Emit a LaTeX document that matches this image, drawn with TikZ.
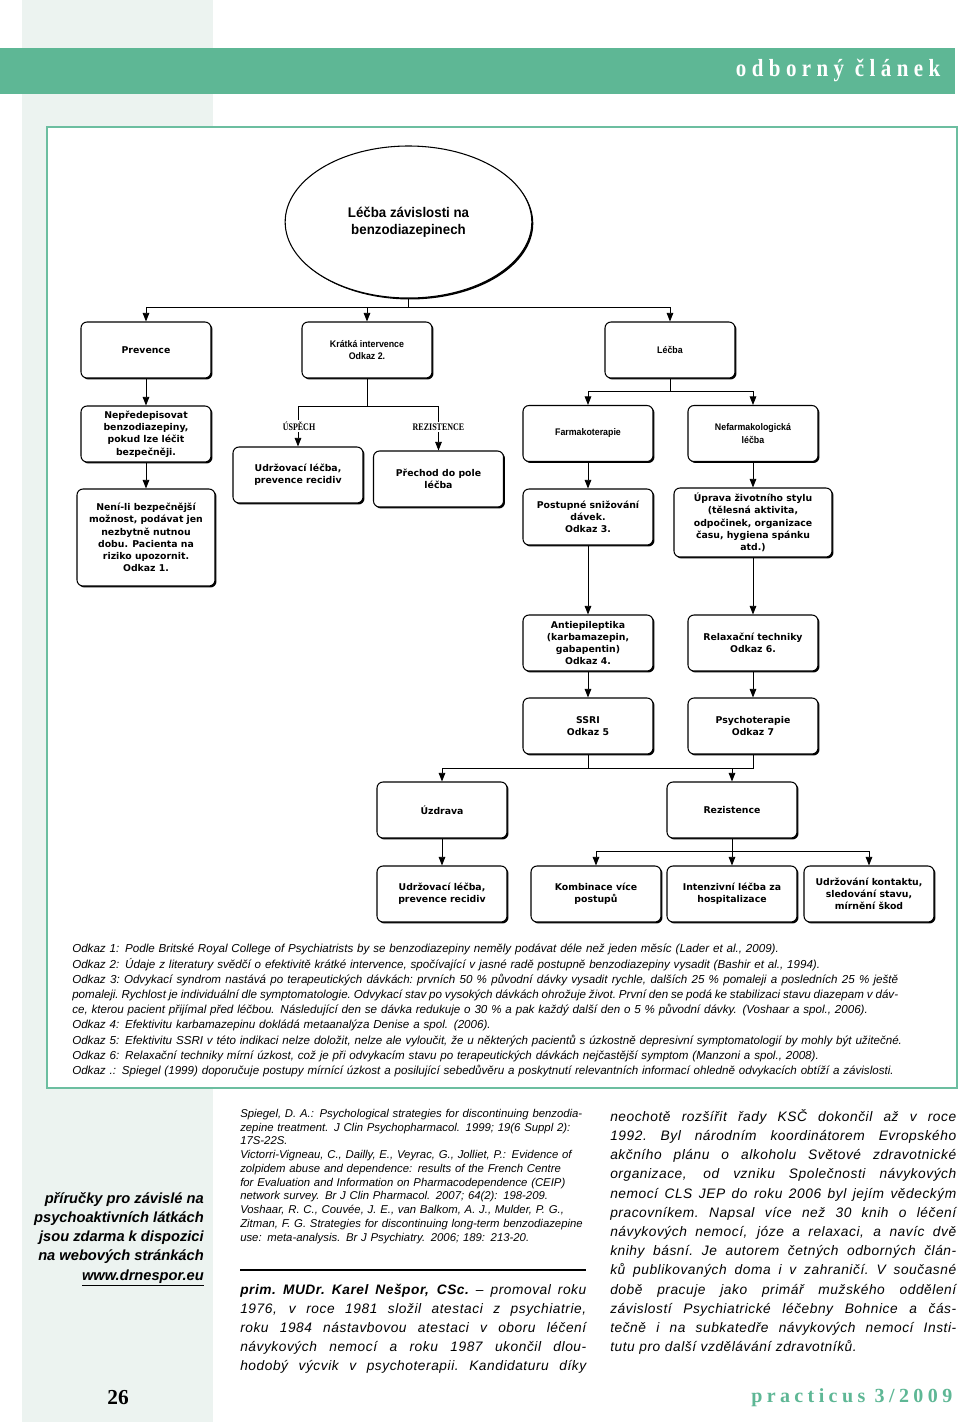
\documentclass[tikz,border=0pt]{standalone}
\usepackage{fontspec}
\setmainfont{Liberation Sans}
\usetikzlibrary{arrows.meta,shapes.geometric,shadows}
\definecolor{bannergreen}{RGB}{94,183,149}
\definecolor{framegreen}{RGB}{108,190,160}
\definecolor{stripgrey}{RGB}{236,243,240}
\newfontfamily\wideFace{DejaVu Sans}
\newfontfamily\narrowFace[FakeStretch=0.92]{Liberation Sans}
\newfontfamily\rootFace[FakeStretch=0.95]{Liberation Sans}
\newfontfamily\labelFace[FakeStretch=0.8]{Liberation Serif}
\newfontfamily\bannerFace[FakeStretch=0.85,LetterSpace=22]{Liberation Serif}
\newfontfamily\issueFace[LetterSpace=22]{Liberation Serif}
\newfontfamily\serifFace{Liberation Serif}
\newfontfamily\bodyFace[LetterSpace=4]{Liberation Sans}
% one justified line of a column
\newcommand\jl[2]{\leavevmode{\spaceskip=0.28em plus 3em minus 0.06em\xspaceskip=\spaceskip
	\hbox to #1{#2}}}

\begin{document}
\begin{tikzpicture}[x=0.75pt,y=-0.75pt]
\tikzset{box/.style = {draw, fill=white, line width=0.8pt, rounded corners=4.5pt,
	minimum width=97.5pt, minimum height=42pt, inner sep=2pt, align=center,
	font=\wideFace\bfseries\fontsize{7}{9.2}\selectfont,
	drop shadow={shadow xshift=1.1pt, shadow yshift=-1.1pt, opacity=1, fill=black}}}
\tikzset{smallbox/.style = {box, font=\narrowFace\bfseries\fontsize{7.2}{9.2}\selectfont}}
\tikzset{edge/.style = {-, > = {Triangle[length=6.5pt,width=5pt]}, line width=0.7pt}}
\tikzset{outcome/.style = {fill=white, inner sep=1pt, font=\labelFace\bfseries\fontsize{7.5}{9}\selectfont}}
\tikzset{textcol/.style = {anchor=north west, inner sep=0pt, align=left}}

\useasboundingbox (0,0) rectangle (960,1422);
% page
\fill[white] (0,0) rectangle (960,1422);
\fill[stripgrey] (22,0) rectangle (213,1422);
\fill[bannergreen] (0,48) rectangle (955,94);
\node[anchor=east, text=white, font=\bannerFace\bfseries\fontsize{18.5}{20}\selectfont] (head) at (945,70) {odborný článek};
\draw[framegreen, line width=1.5pt, fill=white] (47,127) rectangle (957,1088);

% vertices
\node[box, ellipse, minimum width=185pt, minimum height=114pt, inner sep=0pt,
	font=\rootFace\bfseries\fontsize{10.5}{13}\selectfont] (root) at (408.5,222) {Léčba závislosti na\\benzodiazepinech};

\node[box] (prev) at (146,350) {Prevence};
\node[smallbox] (krat) at (367,350) {Krátká intervence\\Odkaz 2.};
\node[smallbox] (lecba) at (670,350) {Léčba};

\node[box] (nepred) at (146,434) {Nepředepisovat\\benzodiazepiny,\\pokud lze léčit\\bezpečněji.};
\node[box, minimum width=103.5pt, minimum height=72.75pt] (nenili) at (146,537.5) {Není-li bezpečnější\\možnost, podávat jen\\nezbytně nutnou\\dobu. Pacienta na\\riziko upozornit.\\Odkaz 1.};

\node[box] (udrz) at (298,475) {Udržovací léčba,\\prevence recidiv};
\node[box] (prechod) at (438.5,479) {Přechod do pole\\léčba};

\node[smallbox] (farm) at (588,433.5) {Farmakoterapie};
\node[smallbox] (nefarm) at (753,433.5) {Nefarmakologická\\léčba};
\node[box] (postup) at (588,517) {Postupné snižování\\dávek.\\Odkaz 3.};
\node[box, minimum width=118.5pt, minimum height=51.75pt] (uprava) at (753,522.5) {Úprava životního stylu\\(tělesná aktivita,\\odpočinek, organizace\\času, hygiena spánku\\atd.)};

\node[box] (anti) at (588,643) {Antiepileptika\\(karbamazepin,\\gabapentin)\\Odkaz 4.};
\node[box] (relax) at (753,643) {Relaxační techniky\\Odkaz 6.};
\node[box] (ssri) at (588,726) {SSRI\\Odkaz 5};
\node[box] (psycho) at (753,726) {Psychoterapie\\Odkaz 7};

\node[box] (uzdr) at (442,810) {Úzdrava};
\node[box] (rezist) at (732,810) {Rezistence};
\node[box] (udrz2) at (442,894) {Udržovací léčba,\\prevence recidiv};
\node[box] (komb) at (596,894) {Kombinace více\\postupů};
\node[box] (intenz) at (732,894) {Intenzivní léčba za\\hospitalizace};
\node[box] (kontakt) at (869,894) {Udržování kontaktu,\\sledování stavu,\\mírnění škod};

\coordinate (j1) at (408.5,307);
\coordinate (j2) at (367,406);
\coordinate (j3) at (670,391);
\coordinate (j4) at (588,768);
\coordinate (j5) at (732,851);

%edges
\draw[edge] (root) -- (j1);
\draw[edge,->] (j1) -| (prev);
\draw[edge,->] (j1) -| (krat);
\draw[edge,->] (j1) -| (lecba);

\draw[edge,->] (prev) -- (nepred);
\draw[edge,->] (nepred) -- (nenili);

\draw[edge] (krat) -- (j2);
\draw[edge,->] (j2) -| (udrz);
\draw[edge,->] (j2) -| (prechod);
\node[outcome] (uspech) at (299,426) {ÚSPĚCH};
\node[outcome] (rezlbl) at (438.5,427) {REZISTENCE};

\draw[edge] (lecba) -- (j3);
\draw[edge,->] (j3) -| (farm);
\draw[edge,->] (j3) -| (nefarm);
\draw[edge,->] (farm) -- (postup);
\draw[edge,->] (nefarm) -- (uprava);
\draw[edge,->] (postup) -- (anti);
\draw[edge,->] (uprava) -- (relax);
\draw[edge,->] (anti) -- (ssri);
\draw[edge,->] (relax) -- (psycho);

\draw[edge] (ssri) -- (j4);
\draw[edge] (psycho.south) |- (j4);
\draw[edge,->] (j4) -| (uzdr);
\draw[edge,->] (j4) -| (rezist);
\draw[edge,->] (uzdr) -- (udrz2);

\draw[edge] (rezist) -- (j5);
\draw[edge,->] (j5) -| (komb);
\draw[edge,->] (j5) -- (intenz);
\draw[edge,->] (j5) -| (kontakt);

% notes under the chart
\node[textcol, text width=670pt, font=\itshape\fontsize{8.7}{11.4}\selectfont] (notes) at (72,944) {%
Odkaz 1: Podle Britské Royal College of Psychiatrists by se benzodiazepiny neměly podávat déle než jeden měsíc (Lader et al., 2009).\\
Odkaz 2: Údaje z literatury svědčí o efektivitě krátké intervence, spočívající v jasné radě postupně benzodiazepiny vysadit (Bashir et al., 1994).\\
\jl{619.5pt}{Odkaz 3: Odvykací syndrom nastává po terapeutických dávkách: prvních 50 \% původní dávky vysadit rychle, dalších 25 \% pomaleji a posledních 25 \% ještě}\\
\jl{619.5pt}{pomaleji. Rychlost je individuální dle symptomatologie. Odvykací stav po vysokých dávkách ohrožuje život. První den se podá ke stabilizaci stavu diazepam v dáv-}\\
ce, kterou pacient přijímal před léčbou. Následující den se dávka redukuje o 30 \% a pak každý další den o 5 \% původní dávky. (Voshaar a spol., 2006).\\
Odkaz 4: Efektivitu karbamazepinu dokládá metaanalýza Denise a spol. (2006).\\
Odkaz 5: Efektivitu SSRI v této indikaci nelze doložit, nelze ale vyloučit, že u některých pacientů s úzkostně depresivní symptomatologií by mohly být užitečné.\\
Odkaz 6: Relaxační techniky mírní úzkost, což je při odvykacím stavu po terapeutických dávkách nejčastější symptom (Manzoni a spol., 2008).\\
Odkaz .: Spiegel (1999) doporučuje postupy mírnící úzkost a posilující sebedůvěru a poskytnutí relevantních informací ohledně odvykacích obtíží a závislosti.};

% left strip
\node[anchor=north east, inner sep=0pt, align=right, font=\bfseries\itshape\fontsize{11}{14.4}\selectfont] (web) at (204,1192) {příručky pro závislé na\\psychoaktivních látkách\\jsou zdarma k dispozici\\na webových stránkách\\\underline{www.drnespor.eu}};
\node[font=\serifFace\bfseries\fontsize{16}{18}\selectfont] (page) at (118,1398) {26};

% references
\node[textcol, text width=270pt, font=\itshape\fontsize{8.5}{10.3}\selectfont] (refs) at (240,1109) {%
Spiegel, D. A.: Psychological strategies for discontinuing benzodia-\\
zepine treatment. J Clin Psychopharmacol. 1999; 19(6 Suppl 2):\\
17S-22S.\\
Victorri-Vigneau, C., Dailly, E., Veyrac, G., Jolliet, P.: Evidence of\\
zolpidem abuse and dependence: results of the French Centre\\
for Evaluation and Information on Pharmacodependence (CEIP)\\
network survey. Br J Clin Pharmacol. 2007; 64(2): 198-209.\\
Voshaar, R. C., Couvée, J. E., van Balkom, A. J., Mulder, P. G.,\\
Zitman, F. G. Strategies for discontinuing long-term benzodiazepine\\
use: meta-analysis. Br J Psychiatry. 2006; 189: 213-20.};
\draw[line width=1.5pt] (240,1270) -- (586,1270);

% author
\node[textcol, text width=259.5pt, font=\bodyFace\itshape\fontsize{10.3}{14.3}\selectfont] (author) at (240,1284) {%
\jl{259.5pt}{\textbf{prim. MUDr. Karel Nešpor, CSc.} – promoval roku}\\
\jl{259.5pt}{1976, v roce 1981 složil atestaci z psychiatrie,}\\
\jl{259.5pt}{roku 1984 nástavbovou atestaci v oboru léčení}\\
\jl{259.5pt}{návykových nemocí a roku 1987 ukončil dlou-}\\
\jl{259.5pt}{hodobý výcvik v psychoterapii. Kandidaturu díky}};

\node[textcol, text width=259.5pt, font=\bodyFace\itshape\fontsize{10.3}{14.4}\selectfont] (bio) at (610,1109) {%
\jl{259.5pt}{neochotě rozšířit řady KSČ dokončil až v roce}\\
\jl{259.5pt}{1992. Byl národním koordinátorem Evropského}\\
\jl{259.5pt}{akčního plánu o alkoholu Světové zdravotnické}\\
\jl{259.5pt}{organizace, od vzniku Společnosti návykových}\\
\jl{259.5pt}{nemocí CLS JEP do roku 2006 byl jejím vědeckým}\\
\jl{259.5pt}{pracovníkem. Napsal více než 30 knih o léčení}\\
\jl{259.5pt}{návykových nemocí, józe a relaxaci, a navíc dvě}\\
\jl{259.5pt}{knihy básní. Je autorem četných odborných člán-}\\
\jl{259.5pt}{ků publikovaných doma i v zahraničí. V současné}\\
\jl{259.5pt}{době pracuje jako primář mužského oddělení}\\
\jl{259.5pt}{závislostí Psychiatrické léčebny Bohnice a čás-}\\
\jl{259.5pt}{tečně i na subkatedře návykových nemocí Insti-}\\
tutu pro další vzdělávání zdravotníků.};

\node[anchor=east, text=bannergreen, font=\issueFace\bfseries\fontsize{15}{18}\selectfont] (issue) at (957,1398) {practicus 3/2009};
\end{tikzpicture}
\end{document}
